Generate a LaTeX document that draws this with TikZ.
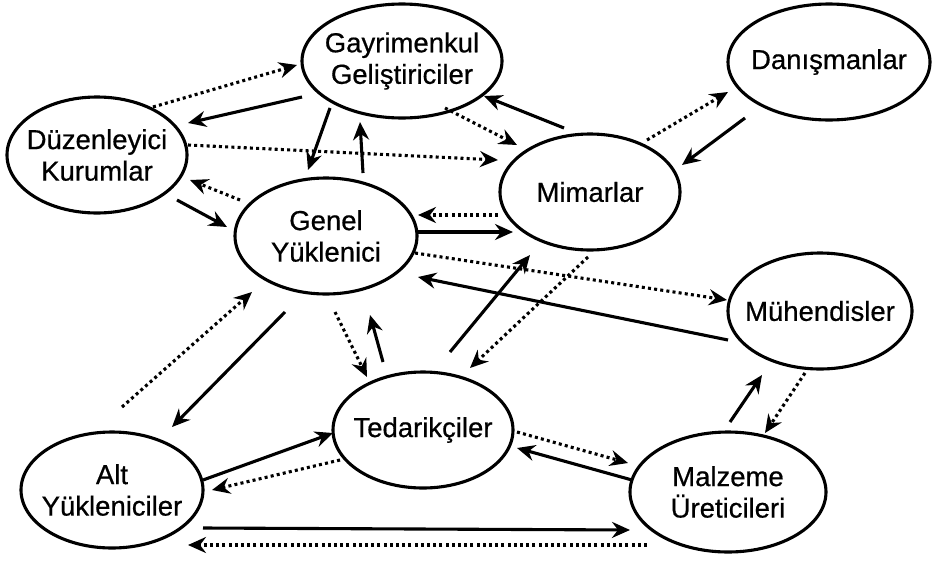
\documentclass[tikz,border=0pt]{standalone}
\usepackage{fontspec}
\setmainfont{Liberation Sans}
\newfontfamily\nodefont[FakeBold=0.6]{Liberation Sans}
\usetikzlibrary{shapes.geometric,arrows.meta,calc}
\begin{document}
\begin{tikzpicture}[x=1pt,y=-1pt,
  ell/.style={ellipse,draw,line width=3.1pt,inner sep=0pt},
  txt/.style={align=center,font=\nodefont\fontsize{27.5}{31.5}\selectfont},
  solarr/.style={line width=3.1pt,-{Stealth[length=18pt,width=16pt,inset=6pt]}},
  dotarr/.style={line width=3.1pt,dash pattern=on 3pt off 3.2pt,-{Stealth[length=18pt,width=16pt,inset=6pt]}}]
\useasboundingbox (0,0) rectangle (932,560);
\fill[white] (0,0) rectangle (932,560);
\node[ell,minimum width=200pt,minimum height=114pt,label={[txt]center:Gayrimenkul\\Geliştiriciler}] (gay) at (402,61) {};
\node[ell,minimum width=180pt,minimum height=116pt,label={[txt]center:Düzenleyici\\Kurumlar}] (duz) at (97,155) {};
\node[ell,minimum width=182pt,minimum height=116pt,label={[txt]center:Genel\\Yüklenici}] (gen) at (326,236) {};
\node[ell,minimum width=180pt,minimum height=116pt,label={[txt]center:Mimarlar}] (mim) at (590,192) {};
\node[ell,minimum width=202pt,minimum height=116pt,label={[txt]center:Danışmanlar}] (dan) at (829,62) {};
\node[ell,minimum width=184pt,minimum height=116pt,label={[txt]center:Mühendisler}] (muh) at (820,311) {};
\node[ell,minimum width=180pt,minimum height=116pt,label={[txt]center:Tedarikçiler}] (ted) at (423,430) {};
\node[ell,minimum width=182pt,minimum height=116pt,label={[txt]center:Alt\\Yükleniciler}] (alt) at (112,490) {};
\node[ell,minimum width=196pt,minimum height=120pt,label={[txt]center:Malzeme\\Üreticileri}] (mal) at (728,492) {};
\coordinate (free) at (122,407);
% connectors
\draw[dotarr] ($(duz)+(56,-48)$) -- ($(gay)+(-105,4)$);
\draw[solarr] ($(gay)+(-100,36)$) -- ($(duz)+(91,-32)$);
\draw[solarr] ($(gay)+(-72,47)$) -- ($(gen)+(-18,-66)$);
\draw[solarr] ($(gen)+(37,-63)$) -- ($(gay)+(-42,61)$);
\draw[dotarr] ($(duz)+(91,-10)$) -- ($(mim)+(-92,-32)$);
\draw[dotarr] ($(gen)+(-86,-36)$) -- ($(duz)+(93,25)$);
\draw[solarr] ($(duz)+(80,45)$) -- ($(gen)+(-99,-9)$);
\draw[solarr] ($(mim)+(-26,-64)$) -- ($(gay)+(82,35)$);
\draw[dotarr] ($(gay)+(43,47)$) -- ($(mim)+(-73,-47)$);
\draw[dotarr] ($(mim)+(57,-52)$) -- ($(dan)+(-101,30)$);
\draw[solarr] ($(dan)+(-84,56)$) -- ($(mim)+(92,-27)$);
\draw[dotarr] ($(mim)+(-92,23)$) -- ($(gen)+(92,-21)$);
\draw[solarr] ($(gen)+(92,-4)$) -- ($(mim)+(-77,40)$);
\draw[dotarr] ($(gen)+(89,17)$) -- ($(muh)+(-93,-11)$);
\draw[solarr] ($(muh)+(-92,29)$) -- ($(gen)+(92,41)$);
\draw[dotarr] ($(mim)+(-2,65)$) -- ($(ted)+(47,-62)$);
\draw[solarr] ($(ted)+(27,-78)$) -- ($(mim)+(-60,63)$);
\draw[dotarr] ($(gen)+(9,76)$) -- ($(ted)+(-56,-53)$);
\draw[solarr] ($(ted)+(-40,-68)$) -- ($(gen)+(44,79)$);
\draw[dotarr] (free) -- ($(gen)+(-74,56)$);
\draw[solarr] ($(gen)+(-41,76)$) -- ($(alt)+(60,-63)$);
\draw[solarr] ($(alt)+(91,-10)$) -- ($(ted)+(-90,3)$);
\draw[dotarr] ($(ted)+(-83,30)$) -- ($(alt)+(100,0)$);
\draw[solarr] ($(alt)+(91,38)$) -- ($(mal)+(-98,38)$);
\draw[dotarr] ($(mal)+(-81,53)$) -- ($(alt)+(76,55)$);
\draw[dotarr] ($(ted)+(94,2)$) -- ($(mal)+(-100,-29)$);
\draw[solarr] ($(mal)+(-96,-12)$) -- ($(ted)+(94,18)$);
\draw[solarr] ($(mal)+(2,-70)$) -- ($(muh)+(-58,64)$);
\draw[dotarr] ($(muh)+(-15,62)$) -- ($(mal)+(37,-59)$);
\end{tikzpicture}
\end{document}
